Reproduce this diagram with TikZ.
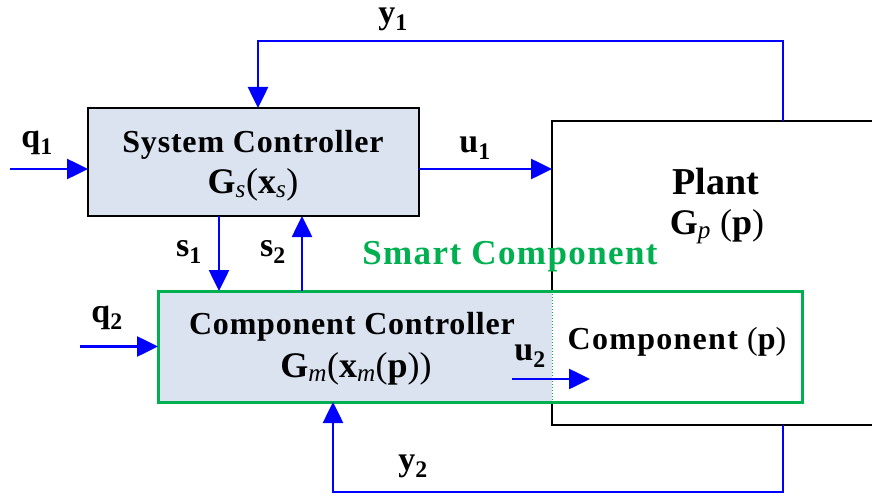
\documentclass[tikz,border=0pt]{standalone}
\usepackage{fontspec}
\setmainfont{Liberation Serif}
\usetikzlibrary{arrows.meta}
\definecolor{ctrlfill}{HTML}{DAE3EF}
\definecolor{smartgreen}{HTML}{00B050}
\newcommand{\isub}[1]{\textsubscript{\mdseries\itshape #1}}
\newcommand{\mparen}[1]{{\mdseries(}#1{\mdseries)}}
\begin{document}
\begin{tikzpicture}[x=1pt,y=-1pt,>={Triangle[length=21pt,width=20pt]},
  box/.style={inner sep=0pt,outer sep=0pt},
  sig/.style={draw=blue,line width=2.6pt,->},
  lbl/.style={inner sep=0pt,font=\fontsize{34}{40}\selectfont\bfseries},
  txt/.style={font=\fontsize{32}{38}\selectfont\bfseries\addfontfeature{LetterSpace=2.5}},
  fun/.style={font=\fontsize{36}{42}\selectfont\bfseries}]
\useasboundingbox (0,0) rectangle (872,497);

% blocks
\node[box,draw,line width=2.4pt,fill=white,minimum width=360pt,minimum height=304pt,anchor=north west] (plant) at (552,121) {};
\node[box,draw,line width=2.4pt,fill=ctrlfill,minimum width=331pt,minimum height=108pt] (sysctrl) at (253.5,162) {};
\node[box,fill=white,minimum width=644pt,minimum height=111pt] (smart) at (480,346.5) {};
\fill[ctrlfill] (smart.north west) rectangle (plant.west |- smart.south);
\draw[smartgreen,dotted,line width=1pt] (plant.west |- smart.north) -- (plant.west |- smart.south);
\draw[smartgreen,line width=3pt] (smart.north west) rectangle (smart.south east);

% texts
\node[txt] (sctitle) at (253,145) {System Controller};
\node[fun] (scfun) at (253,185) {G\isub{s}\mparen{x\isub{s}}};
\node[font=\fontsize{38}{44}\selectfont\bfseries] (pltitle) at (716,182) {Plant};
\node[fun] (plfun) at (717,227) {G\isub{p} \mparen{p}};
\node[txt,font=\fontsize{35}{40}\selectfont\bfseries\addfontfeature{LetterSpace=4},text=smartgreen] (smtitle) at (510,257) {Smart Component};
\node[txt] (cctitle) at (352,327) {Component Controller};
\node[fun] (ccfun) at (356,369) {G\isub{m}\mparen{x\isub{m}\mparen{p}}};
\node[txt,font=\fontsize{32}{38}\selectfont\bfseries\addfontfeature{LetterSpace=4}] (comp) at (677,342) {Component \mparen{p}};

% signals
\coordinate (q1in) at (10,169);
\coordinate (q2in) at (80,346.5);
\coordinate (y1top) at (783,41);
\coordinate (y1x) at (258,41);
\coordinate (y2bot) at (783,492);
\coordinate (y2x) at (333,492);
\coordinate (s1x) at (219,0);
\coordinate (s2x) at (302,0);
\coordinate (u2a) at (512,379);
\coordinate (u2b) at (590,379);

\draw[sig] (q1in) -- (sysctrl.west |- q1in);
\draw[sig] (sysctrl.east |- q1in) -- (plant.west |- q1in);
\draw[sig] (y1top |- plant.north) -- (y1top) -- (y1x) -- (y1x |- sysctrl.north);
\draw[sig] (s1x |- sysctrl.south) -- (s1x |- smart.north);
\draw[sig] (s2x |- smart.north) -- (s2x |- sysctrl.south);
\draw[sig] (q2in) -- (smart.west |- q2in);
\draw[sig] (u2a) -- (u2b);
\draw[sig] (y2bot |- plant.south) -- (y2bot) -- (y2x) -- (y2x |- smart.south);

% labels
\node[lbl] (q1lbl) at (37,143) {q\textsubscript{1}};
\node[lbl] (u1lbl) at (475,148) {u\textsubscript{1}};
\node[lbl] (y1lbl) at (393,19) {y\textsubscript{1}};
\node[lbl] (s1lbl) at (189,252) {s\textsubscript{1}};
\node[lbl] (s2lbl) at (273,252) {s\textsubscript{2}};
\node[lbl] (q2lbl) at (107,318) {q\textsubscript{2}};
\node[lbl] (u2lbl) at (530,356) {u\textsubscript{2}};
\node[lbl] (y2lbl) at (413,466) {y\textsubscript{2}};
\end{tikzpicture}
\end{document}
